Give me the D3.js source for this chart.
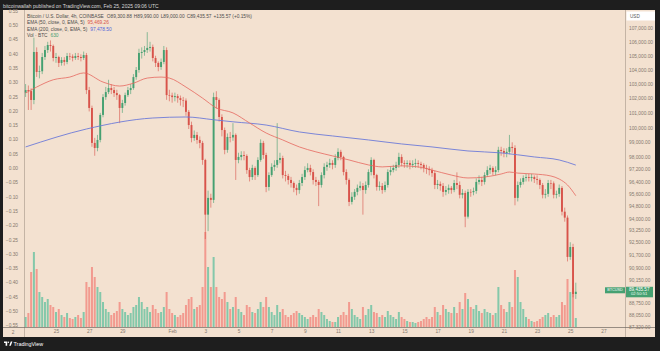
<!DOCTYPE html>
<html>
<head>
<meta charset="utf-8">
<script src="https://cdn.jsdelivr.net/npm/d3@7"></script>
<style>
    body { margin: 0; background: #1e1e1e; overflow: hidden; }
    svg { display: block; font-family: "Liberation Sans", Arial, sans-serif; }
</style>
</head>
<body>
<div id="chart"></div>
<script>
// 4h candles, BTC/USD Coinbase, 23 Jan 04:00 UTC -> 25 Feb 08:00 UTC
const startTime = Date.UTC(2025, 0, 23, 4)
const firstOpen = 102400
const lastOpen = 89300.88

const closes = [
    102580,102510,101890,105270,103850,103900,104910,105410,105770,105700,
    104840,104910,104490,104700,104560,104980,104950,104840,104980,104910,
    104840,105050,102580,101340,98960,98620,99160,100860,102090,102440,
    102720,102580,102370,102230,101340,101680,102230,102580,102720,103490,
    103990,105200,105270,105410,105560,105630,104840,104490,104200,104560,
    105410,102230,102200,102090,102160,102020,101890,101850,101070,100170,
    99290,99500,99160,98960,97820,94250,95330,95200,102090,101890,
    100720,99830,98490,99360,99330,99500,97820,98020,98150,98090,
    97150,96690,97290,96820,97820,98960,98150,96040,96820,97360,
    97490,97820,97950,96820,96760,96500,96300,95980,95840,96300,
    96690,97150,97290,97020,96500,96370,96170,96820,97360,97490,
    97620,97490,97950,98360,98020,97020,96500,95070,95400,95720,
    95980,96110,95840,96170,97020,97820,96820,96040,96110,95840,
    96170,97020,97150,97290,97490,98020,97620,97560,97620,97490,
    97560,97620,97560,97490,97290,97230,97150,96950,96170,96240,
    96110,95720,95840,95980,95840,96300,96170,95530,95650,94120,
    95720,95700,95780,96370,96500,96370,96820,97150,97290,97020,
    97150,98490,98420,98290,98360,98690,98620,95330,96170,96370,
    96630,96690,96630,96690,96560,96500,96170,95530,95590,96300,
    96280,95530,95590,95980,94440,94060,91580,92200,89300,89435.57
]

const highs = [
    103000,102900,102700,106300,105600,104300,105200,105700,106000,106100,
    105800,105200,105000,104900,104900,105200,105200,105100,105200,105200,
    105100,105300,105200,102800,101500,99300,99500,101000,102300,102800,
    103300,103000,102800,102600,102300,101900,102400,102800,103000,103700,
    104200,105500,105600,105700,106700,106000,105800,105000,104600,104800,
    105700,105600,102600,102400,102400,102300,102200,102100,102000,101200,
    100400,99800,99700,99400,99100,97900,95800,95600,102400,102500,
    102000,100900,100000,99600,99700,100300,99600,98300,98400,98400,
    98200,97300,97500,97400,98000,99200,99100,98300,97000,97600,
    97800,100300,98300,98100,97100,96900,96700,96400,96200,96500,
    96900,97400,97600,97500,97200,96700,96500,97000,97600,97700,
    97900,97800,98200,98600,98500,98100,97200,96600,95700,95900,
    96200,96400,96300,96400,97200,98000,97900,96900,96400,96300,
    96400,97200,97400,97500,97700,98300,98200,97800,97800,97800,
    97800,97900,97800,97700,97600,97500,97400,97300,97100,96500,
    96400,96300,96100,96200,96100,96500,97000,96400,95900,95800,
    95900,95900,96000,96600,96800,96700,97000,97400,97500,97400,
    97400,98700,98700,98600,98600,99500,99000,98800,96400,96600,
    96800,96900,96900,96900,96800,96800,96600,96300,95900,96500,
    96500,96400,95800,96200,96100,94700,94200,92500,92400,89990
]

const lows = [
    102100,101200,101200,101600,103500,103400,103700,104700,105200,105300,
    104600,104500,104200,104300,104300,104400,104700,104600,104700,104700,
    104600,104700,102300,101100,98700,98100,98400,99000,100700,101900,
    102300,102300,102100,101900,100300,101000,101500,102100,102300,102600,
    103300,103800,104800,105000,105200,105300,104600,104200,103900,104000,
    104400,101900,101800,101700,101800,101700,101500,101400,100800,99900,
    99000,99100,98900,98600,97500,92700,93200,94700,95000,101300,
    100400,99400,98200,98300,99000,99100,96500,97600,97800,97800,
    96900,96400,96500,96500,96700,97700,97900,95700,95800,96700,
    97100,97300,97600,96600,96400,96200,96000,95700,95500,95600,
    96100,96500,97000,96800,96200,96100,94800,96000,96600,97100,
    97300,97200,97300,97800,97800,96800,96200,94800,94900,95200,
    95500,95800,94250,95600,96000,96800,96600,95800,95800,95600,
    95700,96000,96800,97000,97100,97300,97400,97300,97300,97200,
    97300,97300,97300,97200,97000,96900,96800,96700,95900,95900,
    95800,95400,95500,95600,95600,95700,95900,95300,95300,93450,
    94000,95400,95500,95600,96200,96100,96200,96700,96900,96800,
    96800,97000,98100,98000,98000,98200,98300,94850,95100,96000,
    96200,96400,96400,96400,96300,96200,95900,95300,95300,95400,
    95900,95300,95300,95400,94200,93800,91300,91400,89100,89000
]

// volume in BTC
const volumes = [
    700,980,3850,5250,4060,2450,2100,1750,1960,1540,
    1400,1050,1260,840,700,980,630,560,700,840,
    630,1050,3150,2800,4200,3500,2800,2450,1750,1260,
    1050,840,980,1120,1750,1260,1050,840,980,1400,
    1540,2100,1750,1260,1400,1050,1540,1260,980,1050,
    1400,2450,1260,980,840,700,840,980,1540,1960,
    2100,1260,1400,1540,2800,6650,4200,2800,4900,2800,
    2100,1960,2450,1750,1260,1400,2100,1260,1050,840,
    1540,1400,1050,980,1260,1750,1400,2100,1400,1050,
    840,1540,1050,1260,840,700,840,980,1120,980,
    840,700,560,700,840,700,1260,1050,840,560,
    420,350,350,700,840,1050,840,1750,1260,840,
    700,560,1400,840,1260,1540,1050,980,700,840,
    700,1120,840,700,560,1050,700,560,420,350,
    350,280,350,420,560,700,560,700,1400,1050,
    840,1540,1260,1050,980,1400,980,1750,1260,2380,
    1960,1400,1260,1540,1120,980,1260,1050,980,840,
    980,2800,1540,1260,1050,1750,1400,3990,3500,1750,
    1260,700,560,420,350,420,560,700,840,980,
    700,840,700,840,1750,1540,3360,2450,2730,630
]

// EMA values at a few candles
const ema50At = [0,4,10,16,21,28,34,39,44,49,52,58,64,69,75,81,87,93,99,105,111,117,124,129,136,142,147,154,160,166,172,175,178,184,190,193,196,199]
const ema50 = [102370,102790,103300,103490,103780,103140,102860,103060,103420,103490,103420,102790,102020,101340,101000,100310,99630,99160,98690,98360,98090,97820,97490,97360,97430,97360,97150,96820,96630,96690,96890,97020,96950,96890,96760,96560,96170,95469.26]
const ema200At = [0,22,46,58,68,75,87,99,111,124,136,147,160,172,184,193,199]
const ema200 = [98690,99900,100650,100720,100530,100390,100170,99700,99430,99160,98890,98690,98420,98290,98020,97820,97478.5]

const priceTicks = [107000,106000,105000,104000,103000,102000,101000,100000,99000,98000,97200,96400,95600,94800,94000,93250,92500,91700,90900,90150,88750,88050,87320]
const pctTicks = [0.55,0.5,0.45,0.4,0.35,0.3,0.25,0.2,0.15,0.1,0.05,0,-0.05,-0.1,-0.15,-0.2,-0.25,-0.3,-0.35,-0.4,-0.45,-0.5,-0.55]
const dateTicks = ["2025-01-25","2025-01-27","2025-01-29","2025-02-01","2025-02-03","2025-02-05","2025-02-07","2025-02-09","2025-02-11","2025-02-13","2025-02-15","2025-02-17","2025-02-19","2025-02-21","2025-02-23","2025-02-25","2025-02-27"]
const dateLabels = ["25","27","29","Feb","3","5","7","9","11","13","15","17","19","21","23","25","27"]

const W = 660, H = 351
const plot = { left: 24, right: 625, top: 10, bottom: 327 }
const colors = {
    bg: "#f3e1d0",
    dark: "#1e1e1e",
    up: "#45a071",
    down: "#d8534a",
    volUp: "#84c8aa",
    volDown: "#f29a8f",
    ema50: "#e6675e",
    ema200: "#6d7bd8",
    axisText: "#86796f",
    legend: "#4d4d4d"
}

const candles = closes.map((c, i) => {
    const o = i === 0 ? firstOpen : (i === closes.length - 1 ? lastOpen : closes[i - 1])
    return {
        t: new Date(startTime + i * 4 * 3600e3),
        o, c,
        h: Math.max(highs[i], o, c),
        l: Math.min(lows[i], o, c),
        v: volumes[i]
    }
})

const x = d3.scaleUtc()
    .domain([candles[0].t, candles[candles.length - 1].t])
    .range([25.6, 575.8])
const y = d3.scaleLog().domain([87320, 107000]).range([327, 28])
const yPct = d3.scaleLinear().domain([-0.55, 0.55]).range([325.3, 10.7])
const yVol = d3.scaleLinear().domain([0, 7000]).range([plot.bottom, 227])

const svg = d3.select("#chart").append("svg")
    .attr("width", W)
    .attr("height", H)

// frame
svg.append("rect").attr("width", W).attr("height", H).attr("fill", colors.dark)
svg.append("rect")
    .attr("x", 3).attr("y", plot.top)
    .attr("width", 652).attr("height", 327 - plot.top)
    .attr("fill", colors.bg)
svg.append("rect")
    .attr("x", 3).attr("y", plot.bottom)
    .attr("width", 652).attr("height", 10)
    .attr("fill", colors.bg)

svg.append("defs").append("clipPath").attr("id", "plot-clip")
    .append("rect")
    .attr("x", plot.left).attr("y", plot.top)
    .attr("width", plot.right - plot.left).attr("height", plot.bottom - plot.top)

const g = svg.append("g").attr("clip-path", "url(#plot-clip)")

/* VOLUME */
g.selectAll(".vol")
    .data(candles)
    .enter()
    .append("rect")
    .attr("class", "vol")
    .attr("x", d => x(d.t) - 1)
    .attr("width", 2)
    .attr("y", d => yVol(d.v))
    .attr("height", d => plot.bottom - yVol(d.v))
    .attr("fill", d => d.c >= d.o ? colors.volUp : colors.volDown)

/* CANDLES */
const candle = g.selectAll(".candle")
    .data(candles)
    .enter()
    .append("g")
    .attr("class", "candle")

candle.append("line")
    .attr("x1", d => x(d.t)).attr("x2", d => x(d.t))
    .attr("y1", d => y(d.h)).attr("y2", d => y(d.l))
    .attr("stroke", d => d.c >= d.o ? colors.up : colors.down)
    .attr("stroke-width", 0.6)

candle.append("rect")
    .attr("x", d => x(d.t) - 0.95)
    .attr("width", 1.9)
    .attr("y", d => y(Math.max(d.o, d.c)))
    .attr("height", d => Math.max(0.6, Math.abs(y(d.o) - y(d.c))))
    .attr("fill", d => d.c >= d.o ? colors.up : colors.down)

/* EMA LINES */
const emaLine = d3.line()
    .x(d => x(candles[d[0]].t))
    .y(d => y(d[1]))
    .curve(d3.curveMonotoneX)

g.append("path")
    .datum(ema200At.map((k, i) => [k, ema200[i]]))
    .attr("d", emaLine)
    .attr("fill", "none")
    .attr("stroke", colors.ema200)
    .attr("stroke-width", 0.9)

g.append("path")
    .datum(ema50At.map((k, i) => [k, ema50[i]]))
    .attr("d", emaLine)
    .attr("fill", "none")
    .attr("stroke", colors.ema50)
    .attr("stroke-width", 0.8)

/* AXIS BORDERS */
svg.append("line")
    .attr("x1", plot.left + 0.5).attr("x2", plot.left + 0.5)
    .attr("y1", plot.top).attr("y2", 337)
    .attr("stroke", "#a59688").attr("stroke-width", 0.6)
svg.append("line")
    .attr("x1", plot.right + 0.5).attr("x2", plot.right + 0.5)
    .attr("y1", plot.top).attr("y2", 337)
    .attr("stroke", "#a59688").attr("stroke-width", 0.6)
svg.append("line")
    .attr("x1", 3).attr("x2", 655)
    .attr("y1", plot.bottom + 0.5).attr("y2", plot.bottom + 0.5)
    .attr("stroke", "#6f6760").attr("stroke-width", 0.7)

/* RIGHT PRICE AXIS */
const rightAxis = svg.append("g")
    .attr("transform", `translate(${plot.right}, 0)`)
    .call(d3.axisRight(y)
        .tickValues(priceTicks)
        .tickSize(0)
        .tickPadding(4)
        .tickFormat(d3.format(",.2f")))
rightAxis.select(".domain").remove()
rightAxis.selectAll("text")
    .attr("fill", colors.axisText)
    .style("font-size", "4.8px")
    .style("font-family", "Liberation Sans, Arial, sans-serif")

/* LEFT PERCENT AXIS */
const leftAxis = svg.append("g")
    .attr("transform", `translate(${plot.left}, 0)`)
    .call(d3.axisLeft(yPct)
        .tickValues(pctTicks)
        .tickSize(0)
        .tickPadding(6)
        .tickFormat(d3.format(".2f")))
leftAxis.select(".domain").remove()
leftAxis.selectAll("text")
    .attr("fill", colors.axisText)
    .style("font-size", "4.8px")
    .style("font-family", "Liberation Sans, Arial, sans-serif")

/* TIME AXIS */
svg.append("g")
    .attr("clip-path", "url(#plot-clip-x)")
svg.select("defs").append("clipPath").attr("id", "time-clip")
    .append("rect")
    .attr("x", plot.left).attr("y", plot.bottom)
    .attr("width", plot.right - plot.left).attr("height", 10)
const timeAxis = svg.append("g")
    .attr("clip-path", "url(#time-clip)")
    .append("g")
    .attr("transform", `translate(0, ${plot.bottom})`)
    .call(d3.axisBottom(x)
        .tickValues(dateTicks.map(d => new Date(d + "T00:00:00Z")))
        .tickSize(0)
        .tickPadding(3)
        .tickFormat((d, i) => dateLabels[i]))
timeAxis.select(".domain").remove()
timeAxis.selectAll("text")
    .attr("fill", colors.axisText)
    .style("font-size", "4.8px")
    .style("font-family", "Liberation Sans, Arial, sans-serif")

svg.append("text")
    .attr("x", 13).attr("y", 334)
    .attr("text-anchor", "middle")
    .attr("fill", colors.axisText)
    .style("font-size", "4.8px")
    .text("2")

/* USD BOX */
svg.append("rect")
    .attr("x", 626.5).attr("y", 11.5)
    .attr("width", 28.5).attr("height", 9)
    .attr("fill", "#ffffff")
svg.append("text")
    .attr("x", 630).attr("y", 17.6)
    .attr("fill", "#555")
    .style("font-size", "4.6px")
    .text("USD")

/* LAST PRICE LABELS */
const last = candles[candles.length - 1]
svg.append("rect")
    .attr("x", 605).attr("y", y(last.c) - 4.5)
    .attr("width", 20).attr("height", 6)
    .attr("fill", colors.up)
svg.append("text")
    .attr("x", 615).attr("y", y(last.c) - 1.5)
    .attr("text-anchor", "middle")
    .attr("dominant-baseline", "middle")
    .attr("fill", "#fff")
    .style("font-size", "3.8px")
    .text("BTCUSD")
svg.append("rect")
    .attr("x", 626).attr("y", y(last.c) - 5)
    .attr("width", 27).attr("height", 10.5)
    .attr("fill", colors.up)
svg.append("text")
    .attr("x", 629).attr("y", y(last.c) - 2.3)
    .attr("dominant-baseline", "middle")
    .attr("fill", "#fff")
    .style("font-size", "4.6px")
    .text(d3.format(",.2f")(last.c))
svg.append("text")
    .attr("x", 631).attr("y", y(last.c) + 2.6)
    .attr("dominant-baseline", "middle")
    .attr("fill", "#eafff3")
    .style("font-size", "4.2px")
    .text("02:50:51")

/* LEGEND */
const fmt = d3.format(",.2f")
const legend = svg.append("g").style("font-size", "4.8px")
const l1 = legend.append("text").attr("x", 27).attr("y", 17.5).attr("fill", colors.legend)
l1.append("tspan").text("Bitcoin / U.S. Dollar, 4h, COINBASE")
l1.append("tspan").attr("dx", 3).text("O" + fmt(last.o))
l1.append("tspan").attr("dx", 2).text("H" + fmt(last.h))
l1.append("tspan").attr("dx", 2).text("L" + fmt(last.l))
l1.append("tspan").attr("dx", 2).text("C" + fmt(last.c))
l1.append("tspan").attr("dx", 2).text("+135.57 (+0.15%)")

const l2 = legend.append("text").attr("x", 27).attr("y", 24).attr("fill", colors.legend)
l2.append("tspan").text("EMA (50, close, 0, EMA, 5)")
l2.append("tspan").attr("dx", 3).attr("fill", colors.down).text(fmt(ema50[ema50.length - 1]))

const l3 = legend.append("text").attr("x", 27).attr("y", 30.5).attr("fill", colors.legend)
l3.append("tspan").text("EMA (200, close, 0, EMA, 5)")
l3.append("tspan").attr("dx", 3).attr("fill", "#4f63d8").text(fmt(ema200[ema200.length - 1]))

const l4 = legend.append("text").attr("x", 27).attr("y", 37).attr("fill", colors.legend)
l4.append("tspan").text("Vol · BTC")
l4.append("tspan").attr("dx", 3).attr("fill", colors.up).text(d3.format(",")(last.v))

/* HEADER / FOOTER */
svg.append("text")
    .attr("x", 3).attr("y", 7.5)
    .attr("fill", "#d8d8d8")
    .style("font-size", "5px")
    .text("bitcoinwallah published on TradingView.com, Feb 25, 2025 09:06 UTC")

const logo = svg.append("g").attr("transform", "translate(4, 341.5)").attr("fill", "#ffffff")
logo.append("path").attr("d", "M0 0 H3.2 V4.2 H1.6 V1.6 H0 Z")
logo.append("circle").attr("cx", 4.3).attr("cy", 0.8).attr("r", 0.8)
logo.append("path").attr("d", "M5.2 4.2 L6.8 0 H8.4 L6.8 4.2 Z")
svg.append("text")
    .attr("x", 13.5).attr("y", 345.6)
    .attr("fill", "#ffffff")
    .style("font-size", "5.4px")
    .text("TradingView")
</script>
</body>
</html>
